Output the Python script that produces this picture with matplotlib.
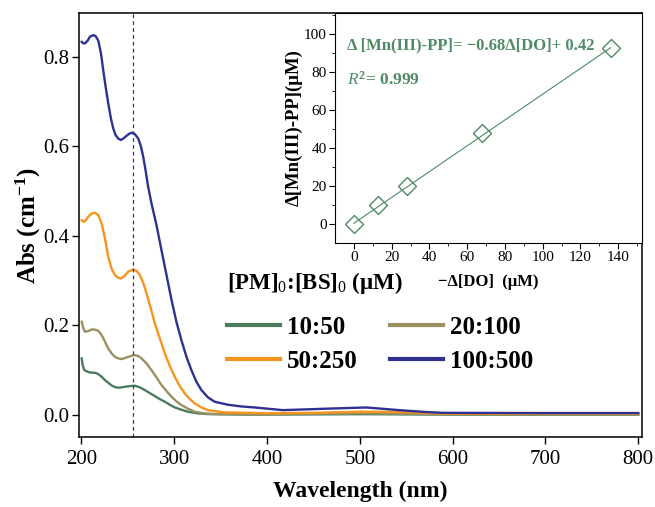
import matplotlib.pyplot as plt
import numpy as np

plt.rcParams['font.family'] = ['Liberation Serif', 'DejaVu Serif']
plt.rcParams['mathtext.fontset'] = 'custom'
plt.rcParams['mathtext.rm'] = 'Liberation Serif'
plt.rcParams['mathtext.it'] = 'Liberation Serif:italic'
plt.rcParams['mathtext.bf'] = 'Liberation Serif:bold'

# UV-vis spectra, wavelength (nm) vs absorbance
wl_10 = [200.2, 201.3, 203.0, 207.4, 211.0, 214.5, 218.1, 221.7, 225.3, 228.8, 232.4, 236.0, 239.6,
         243.2, 246.8, 252.2, 257.5, 262.9, 268.3, 273.6, 279.0, 284.4, 289.8, 295.2, 300.5, 307.7,
         314.9, 325.6, 336.3, 380, 450, 500, 600, 700, 800]
abs_10 = [0.1265, 0.1116, 0.1004, 0.096, 0.0945, 0.0945, 0.0915, 0.0856, 0.078, 0.0722, 0.0662, 0.0625, 0.061,
          0.0618, 0.0632, 0.0647, 0.0655, 0.0618, 0.0558, 0.049, 0.0424, 0.0357, 0.0298, 0.023, 0.0171, 0.0119,
          0.0074, 0.0037, 0.0022, 0.001, 0.0015, 0.002, 0.001, 0.001, 0.001]

wl_20 = [200.2, 202.0, 203.8, 207.4, 211.0, 214.5, 218.1, 221.7, 225.3, 228.8, 232.4, 236.0, 239.6,
         243.2, 246.8, 250.4, 256.8, 261.1, 264.7, 270.1, 275.4, 280.8, 286.2, 291.6, 297.0, 302.3,
         307.7, 314.9, 322.0, 332.8, 343.5, 400, 450, 500, 550, 600, 700, 800]
abs_20 = [0.2083, 0.1935, 0.186, 0.1875, 0.191, 0.191, 0.188, 0.1786, 0.1637, 0.1488, 0.1376, 0.130, 0.1265,
          0.125, 0.1272, 0.130, 0.134, 0.1317, 0.1265, 0.1153, 0.1004, 0.084, 0.067, 0.0536, 0.041, 0.0305,
          0.0223, 0.0141, 0.0074, 0.0037, 0.0022, 0.002, 0.003, 0.004, 0.003, 0.002, 0.002, 0.002]

wl_50 = [200.2, 202.0, 203.8, 207.4, 211.0, 214.5, 218.1, 221.7, 225.3, 228.8, 232.4, 236.0, 239.6,
         242.5, 246.1, 250.4, 255.7, 259.3, 262.9, 266.5, 270.1, 274.7, 279.0, 284.4, 289.8, 295.2,
         300.5, 305.9, 311.3, 316.7, 322.0, 329.2, 336.3, 345.3, 354.3, 400, 450, 500, 550, 590, 700, 800]
abs_50 = [0.435, 0.4315, 0.433, 0.4427, 0.450, 0.4516, 0.4464, 0.428, 0.394, 0.3534, 0.327, 0.3125, 0.3065,
          0.305, 0.310, 0.320, 0.325, 0.322, 0.3125, 0.2954, 0.2716, 0.238, 0.2046, 0.171, 0.1376, 0.1094,
          0.0856, 0.0647, 0.0484, 0.0357, 0.026, 0.0171, 0.011, 0.0082, 0.006, 0.004, 0.005, 0.0075, 0.007,
          0.003, 0.003, 0.003]

wl_100 = [200.2, 202.0, 203.8, 206.6, 209.1, 212.7, 215.2, 218.1, 221.0, 223.4, 226.0, 228.8, 231.7,
          234.2, 236.7, 239.6, 242.5, 245.3, 248.6, 252.2, 254.7, 257.5, 261.1, 264.0, 266.5, 269.0,
          271.8, 275.4, 280.8, 286.2, 291.6, 297.0, 302.3, 307.7, 313.1, 318.5, 323.8, 329.2, 336.3,
          343.5, 357.9, 372.2, 386.6, 417, 460, 506.7, 542.5, 570, 589, 700, 800]
abs_100 = [0.833, 0.8296, 0.8296, 0.8356, 0.8445, 0.848, 0.846, 0.8356, 0.807, 0.770, 0.733, 0.696, 0.662,
           0.640, 0.625, 0.617, 0.614, 0.6175, 0.6235, 0.629, 0.630, 0.627, 0.6175, 0.600, 0.5766, 0.547,
           0.5097, 0.4725, 0.424, 0.368, 0.3125, 0.257, 0.208, 0.167, 0.130, 0.100, 0.0744, 0.0558, 0.0394,
           0.0298, 0.023, 0.0193, 0.017, 0.011, 0.014, 0.017, 0.011, 0.007, 0.005, 0.0045, 0.0045]

labels = ['10:50', '20:100', '50:250', '100:500']
colors = ['#4a7c5e', '#9a9160', '#f7941d', '#2e3192']
peak_wl = 256

# inset: consumed oxygen vs Mn(III) formed
delta_do = [0, 13, 28, 68, 136]
delta_mn = [0, 10, 20, 48, 93]
slope = 0.68
intercept = 0.42
fit_green = '#4f8a65'

fig = plt.figure(figsize=(6.55, 5.07), dpi=100)
ax = fig.add_axes([0.1206, 0.138, 0.859, 0.836])

series = [(wl_10, abs_10), (wl_20, abs_20), (wl_50, abs_50), (wl_100, abs_100)]
lines = []
for (x, y), lab, c in zip(series, labels, colors):
    ln, = ax.plot(x, y, color=c, lw=1.7, label=lab)
    lines.append(ln)

ax.axvline(peak_wl, color='#2e3192', lw=0.9, ls=(0, (3, 2.5)))

ax.set_xlim(197.3, 803.6)
ax.set_ylim(-0.049, 0.897)
ax.set_xticks([200, 300, 400, 500, 600, 700, 800])
ax.set_yticks([0.0, 0.2, 0.4, 0.6, 0.8])
ax.set_yticklabels(['0.0', '0.2', '0.4', '0.6', '0.8'])
ax.tick_params(direction='out', length=5, width=1, labelsize=15)
ax.tick_params(axis='y', pad=2)
ax.tick_params(axis='x', pad=4)
for s in ax.spines.values():
    s.set_linewidth(1.1)

ax.set_xlabel('Wavelength (nm)', fontsize=17, fontweight='bold', labelpad=9)
ax.set_ylabel('Abs (cm$^{\\mathbf{-1}}$)', fontsize=18, fontweight='bold', labelpad=0)

# legend filled row by row: 10:50, 20:100 / 50:250, 100:500
order = [0, 2, 1, 3]
ax.text(0.263, 0.363, '[PM]$_0$:[BS]$_0$ (μM)', transform=ax.transAxes,
        fontsize=16.5, fontweight='bold', va='center', ha='left')
leg = ax.legend([lines[i] for i in order], [labels[i] for i in order], ncol=2,
                loc='upper left', bbox_to_anchor=(0.241, 0.316),
                frameon=False, handlelength=2.1, handletextpad=0.3,
                columnspacing=1.3, labelspacing=0.45, borderpad=0,
                prop={'weight': 'bold', 'size': 18})
for h in leg.get_lines():
    h.set_linewidth(3)

ins = fig.add_axes([0.5115, 0.5207, 0.468, 0.4536])
fx = np.array([0, delta_do[-1]])
ins.plot(fx, slope * fx + intercept, color=fit_green, lw=0.8)
ins.plot(delta_do, delta_mn, ls='none', marker='D', ms=9, mfc='none', mec=fit_green, mew=1)
ins.set_xlim(-10, 152.4)
ins.set_ylim(-10, 111.2)
ins.set_xticks(range(0, 141, 20))
ins.set_yticks(range(0, 101, 20))
ins.set_xticks(range(10, 151, 20), minor=True)
ins.set_yticks(range(10, 111, 20), minor=True)
ins.tick_params(which='both', direction='out', labelsize=11, pad=2)
ins.tick_params(which='major', length=4)
ins.tick_params(which='minor', length=2.5)
ins.set_xlabel('−Δ[DO]  (μM)', fontsize=12, fontweight='bold', labelpad=7)
ins.set_ylabel('Δ[Mn(III)-PP](μM)', fontsize=13.5, fontweight='bold', labelpad=1)
ins.text(0.04, 0.84, 'Δ [Mn(III)-PP]= −0.68Δ[DO]+ 0.42', transform=ins.transAxes,
         color=fit_green, fontsize=12, fontweight='bold')
ins.text(0.04, 0.69, '$\\mathit{R}^{\\mathbf{2}}$= 0.999', transform=ins.transAxes,
         color=fit_green, fontsize=12.5, fontweight='bold')

fig.savefig('out.png', dpi=100)
